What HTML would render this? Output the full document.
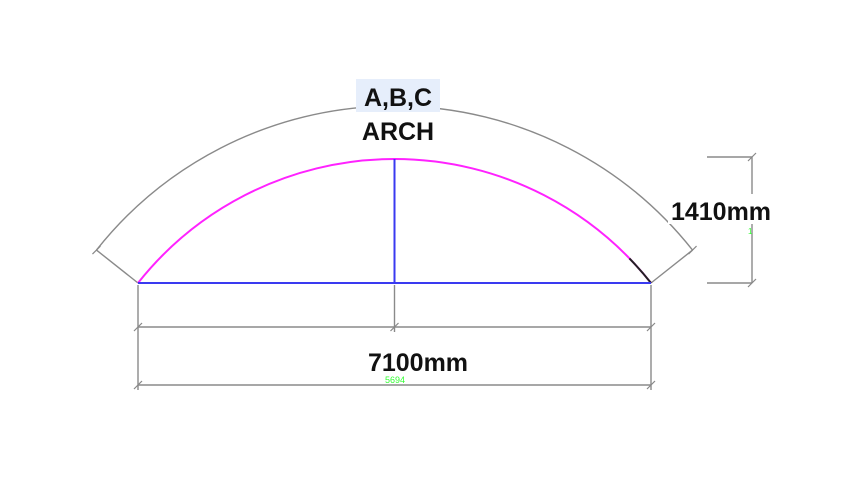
<!DOCTYPE html>
<html><head><meta charset="utf-8">
<style>
html,body{margin:0;padding:0;background:#fff;}
svg{display:block;}
text{font-family:"Liberation Sans","DejaVu Sans",sans-serif;}
</style></head>
<body>
<svg id="dwg" width="848" height="480" viewBox="0 0 848 480" xmlns="http://www.w3.org/2000/svg">
<rect width="848" height="480" fill="#fff"/>
<g id="g"></g>
</svg>
<script>
// data (drawing dimensions)
const spanLabels = ["7100mm"];
const riseLabels = ["1410mm"];
const titleLines = ["A,B,C","ARCH"];
const spanValues = [7100];
const riseValues = [1410];

// layout
const baseY = 283, leftX = 138, rightX = 651;
const pxPerMm = (rightX-leftX)/spanValues[0];
const risePx = 124;
const midX = (leftX+rightX)/2;
const half = (rightX-leftX)/2;
const R = (half*half + risePx*risePx)/(2*risePx);
const cx = midX, cy = baseY - risePx + R;
const Rout = R + 53;
const NS = "http://www.w3.org/2000/svg";
const g = document.getElementById('g');
function mk(tag, attrs){const e=document.createElementNS(NS,tag);for(const k in attrs)e.setAttribute(k,attrs[k]);g.appendChild(e);return e;}
function line(x1,y1,x2,y2,c,w){return mk('line',{x1,y1,x2,y2,stroke:c,'stroke-width':w});}
function tick(x,y){return line(x-4,y+4,x+4,y-4,'#888',1.2);}
const grey='#8a8a8a';

const a0 = Math.atan2(baseY-cy, leftX-cx), a1 = Math.atan2(baseY-cy, rightX-cx);
const p = (r,a)=>[cx+r*Math.cos(a), cy+r*Math.sin(a)];
let [ox0,oy0]=p(Rout,a0), [ox1,oy1]=p(Rout,a1);
let e=mk('path',{d:`M${ox0},${oy0} A${Rout},${Rout} 0 0 1 ${ox1},${oy1}`,fill:'none',stroke:grey,'stroke-width':1.4});


e=line(leftX,baseY,ox0,oy0,grey,1.4);


e=line(rightX,baseY,ox1,oy1,grey,1.4);


tick(ox0,oy0); tick(ox1,oy1);

e=mk('path',{d:`M${leftX},${baseY} A${R},${R} 0 0 1 ${rightX},${baseY}`,fill:'none',stroke:'#ff22ff','stroke-width':2});


const ab = a1 - 0.1;
let [bx,by]=p(R,ab);
e=mk('path',{d:`M${bx},${by} A${R},${R} 0 0 1 ${rightX},${baseY}`,fill:'none',stroke:'#222','stroke-width':2});



e=line(leftX,baseY,rightX,baseY,'#3a3af0',2);


e=line(midX,baseY,midX,baseY-risePx,'#3a3af0',2);



line(leftX,baseY+2,leftX,390,grey,1.4);
line(midX,baseY+2,midX,332,grey,1.4);
line(rightX,baseY+2,rightX,390,grey,1.4);
e=line(leftX,327,rightX,327,grey,1.4);


tick(leftX,327);tick(midX,327);tick(rightX,327);
e=line(leftX,385,rightX,385,grey,1.4);


tick(leftX,385);tick(rightX,385);

const topY = baseY - risePx - 2;
line(707,topY,752,topY,grey,1.4);
line(707,baseY,752,baseY,grey,1.4);
e=line(752,topY,752,baseY,grey,1.4);


tick(752,topY);tick(752,baseY);

e=mk('rect',{x:356,y:79,width:84,height:33,fill:'#e6eefb'});


e=mk('text',{x:398,y:106,'text-anchor':'middle','font-size':25,'font-weight':'bold',fill:'#111'});
e.textContent=titleLines[0];


e=mk('text',{x:398,y:140,'text-anchor':'middle','font-size':25,'font-weight':'bold',fill:'#111'});
e.textContent=titleLines[1];


e=mk('rect',{x:668,y:194,width:106,height:30,fill:'#fff'});
e=mk('text',{x:721,y:220,'text-anchor':'middle','font-size':25,'font-weight':'bold',fill:'#111'});
e.textContent=riseLabels[0];


e=mk('text',{x:748,y:234,'font-size':8,fill:'#3f3'});
e.textContent='1';


e=mk('text',{x:418,y:371,'text-anchor':'middle','font-size':25,'font-weight':'bold',fill:'#111'});
e.textContent=spanLabels[0];


e=mk('text',{x:395,y:383,'text-anchor':'middle','font-size':9,fill:'#3f3'});
e.textContent='5694';


</script>
</body></html>
